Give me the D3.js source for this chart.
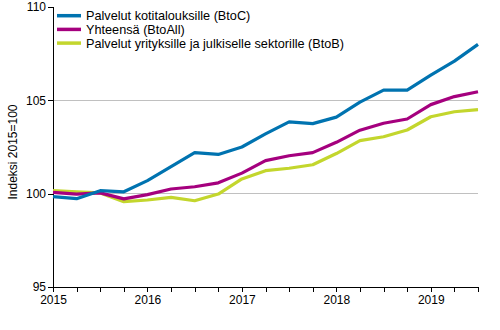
<!DOCTYPE html>
<html>
<head>
<meta charset="utf-8">
<script src="https://cdn.jsdelivr.net/npm/d3@7"></script>
<style>
  html, body { margin: 0; padding: 0; background: #fff; }
  svg text { font-family: "Liberation Sans", Arial, sans-serif; fill: #000; }
</style>
</head>
<body>
<svg id="chart" width="500" height="330"></svg>
<script>
// Quarterly index values, 2015Q1 … 2019Q3 (2015 = 100)
const quarters = ["2015Q1","2015Q2","2015Q3","2015Q4","2016Q1","2016Q2","2016Q3","2016Q4",
  "2017Q1","2017Q2","2017Q3","2017Q4","2018Q1","2018Q2","2018Q3","2018Q4",
  "2019Q1","2019Q2","2019Q3"];
const btoC   = [99.84, 99.73, 100.16, 100.1, 100.7, 101.45, 102.2, 102.1, 102.5, 103.2, 103.85, 103.75,
  104.1, 104.9, 105.55, 105.55, 106.35, 107.1, 108.0];
const btoAll = [100.07, 99.98, 100.04, 99.72, 99.95, 100.25, 100.37, 100.58, 101.1, 101.77, 102.03, 102.2,
  102.75, 103.4, 103.77, 104.0, 104.77, 105.2, 105.46];
const btoB   = [100.16, 100.1, 100.04, 99.57, 99.66, 99.8, 99.62, 99.98, 100.79, 101.23, 101.36, 101.55,
  102.15, 102.84, 103.05, 103.41, 104.12, 104.39, 104.5];

const seriesNames = ["Palvelut kotitalouksille (BtoC)", "Yhteensä (BtoAll)",
  "Palvelut yrityksille ja julkiselle sektorille (BtoB)"];
const seriesColors = ["#0073b0", "#a5007e", "#c3d62d"];
const yTicks = [95, 100, 105, 110];
const gridValues = [100, 105];
const yTitle = "Indeksi 2015=100";

const svg = d3.select("#chart");
const m = { left: 53, right: 22, top: 7, bottom: 43 };
const W = 500, H = 330;

const x = d3.scaleLinear().domain([0, quarters.length - 1]).range([m.left, W - m.right]);
const y = d3.scaleLinear().domain([95, 110]).range([H - m.bottom, m.top]);

// horizontal grid lines
svg.append("g").selectAll("line").data(gridValues).join("line")
  .attr("x1", m.left).attr("x2", W - m.right)
  .attr("y1", d => y(d)).attr("y2", d => y(d))
  .attr("stroke", "#c0c0c0").attr("stroke-width", 1).attr("shape-rendering", "crispEdges");

// y axis
const yAxis = svg.append("g").attr("transform", `translate(${m.left},0)`)
  .call(d3.axisLeft(y).tickValues(yTicks).tickSize(5).tickPadding(2).tickFormat(d3.format("d")));
yAxis.select(".domain").attr("stroke", "#000").attr("shape-rendering", "crispEdges");
yAxis.selectAll(".tick line").attr("stroke", "#000").attr("shape-rendering", "crispEdges");
yAxis.selectAll("text").attr("font-size", 12).attr("fill", "#000")
  .style("font-family", "'Liberation Sans', Arial, sans-serif");

// x axis: a tick at every quarter, year labels on first quarters
const xAxis = svg.append("g").attr("transform", `translate(0,${H - m.bottom})`)
  .call(d3.axisBottom(x).tickValues(d3.range(quarters.length)).tickSize(5).tickPadding(3)
    .tickSizeOuter(0)
    .tickFormat(i => quarters[i].endsWith("Q1") ? quarters[i].slice(0, 4) : ""));
xAxis.select(".domain").attr("stroke", "#000").attr("shape-rendering", "crispEdges");
xAxis.selectAll(".tick line").attr("stroke", "#000").attr("shape-rendering", "crispEdges");
xAxis.selectAll("text").attr("font-size", 12).attr("fill", "#000")
  .style("font-family", "'Liberation Sans', Arial, sans-serif");

// y-axis title
svg.append("text")
  .attr("transform", `translate(17,${(m.top + H - m.bottom) / 2 + 5}) rotate(-90)`)
  .attr("text-anchor", "middle").attr("font-size", 12).text(yTitle);

// series lines
const line = d3.line().x((d, i) => x(i)).y(d => y(d));
const allSeries = [btoB, btoAll, btoC];
const allColors = [seriesColors[2], seriesColors[1], seriesColors[0]];
svg.append("g").selectAll("path").data(allSeries).join("path")
  .attr("d", line)
  .attr("fill", "none")
  .attr("stroke", (d, i) => allColors[i])
  .attr("stroke-width", 3.2)
  .attr("stroke-linejoin", "round");

// legend
const lg = svg.append("g").attr("transform", "translate(57,15.7)");
const items = lg.selectAll("g").data(seriesNames).join("g")
  .attr("transform", (d, i) => `translate(0,${i * 13.7})`);
items.append("line").attr("x1", 0).attr("x2", 24).attr("y1", 0).attr("y2", 0)
  .attr("stroke", (d, i) => seriesColors[i]).attr("stroke-width", 3.5);
items.append("text").attr("x", 29).attr("y", 4.6).attr("font-size", 12.7).text(d => d);
</script>
</body>
</html>
